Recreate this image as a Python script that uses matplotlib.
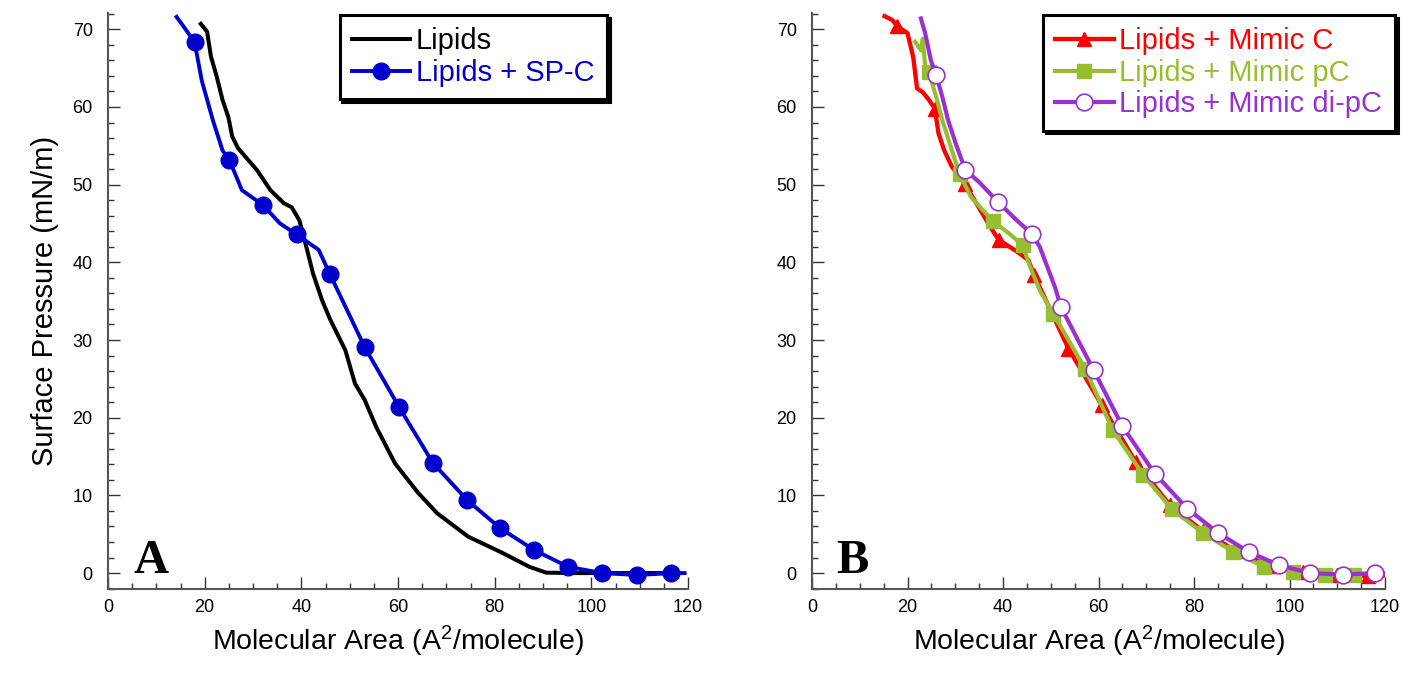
import numpy as np
import matplotlib
matplotlib.use("Agg")
import matplotlib.pyplot as plt
from matplotlib.ticker import MultipleLocator

plt.rcParams['font.family'] = ['Liberation Sans', 'DejaVu Sans']
plt.rcParams['mathtext.default'] = 'regular'

# panel A
lip_x = np.array([19.2, 20.5, 21.3, 22.5, 23.7, 24.9, 25.7, 26.9, 30.8, 33.6, 36.4, 38.0, 39.6,
                  41.2, 42.4, 44.3, 46.0, 49.1, 51.1, 53.1, 55.5, 59.4, 64.2, 68.1, 74.5, 81.6,
                  87.2, 90.7, 97.5, 105.0, 112.0, 118.0])
lip_y = np.array([70.7, 69.7, 66.5, 63.9, 60.9, 58.7, 56.2, 54.7, 51.9, 49.3, 47.6, 47.1, 45.4,
                  41.6, 38.6, 35.1, 32.6, 28.7, 24.4, 22.3, 18.8, 14.1, 10.3, 7.7, 4.7, 2.6,
                  0.8, 0.05, 0.0, 0.0, 0.0, 0.0])

spc_x = np.array([14.2, 17.9, 19.4, 21.7, 23.7, 25.1, 27.7, 32.0, 35.6, 39.0, 43.6, 45.9, 53.1,
                  60.2, 67.2, 74.3, 81.2, 88.2, 95.2, 102.3, 109.5, 116.5, 119.3])
spc_y = np.array([71.6, 68.4, 63.4, 58.3, 54.4, 53.2, 49.3, 47.4, 45.0, 43.6, 41.6, 38.5, 29.1,
                  21.4, 14.2, 9.4, 5.75, 2.96, 0.8, 0.0, -0.25, 0.0, 0.0])
spc_mk = [1, 5, 7, 9, 11, 12, 13, 14, 15, 16, 17, 18, 19, 20, 21]

# panel B
mc_x = np.array([15.2, 16.8, 17.9, 20.0, 21.2, 22.0, 23.2, 24.5, 25.7, 26.5, 27.7, 29.3, 32.0,
                 34.9, 37.3, 39.1, 42.9, 45.3, 46.5, 53.7, 60.7, 67.8, 75.0, 81.9, 88.9, 95.9,
                 102.9, 109.9, 116.5, 120.0])
mc_y = np.array([71.7, 71.2, 70.4, 69.5, 66.4, 62.4, 61.9, 60.9, 59.8, 56.6, 54.4, 52.3, 50.1,
                 47.1, 44.6, 42.9, 41.4, 40.3, 38.4, 28.9, 21.6, 14.3, 8.7, 5.4, 2.8, 0.9,
                 0.1, -0.2, -0.4, -0.3])
mc_mk = [2, 8, 12, 15, 18, 19, 20, 21, 22, 23, 24, 25, 26, 27, 28]

pc_x = np.array([21.6, 22.8, 23.2, 23.7, 24.5, 26.0, 27.3, 29.3, 30.9, 33.3, 37.9, 41.3, 44.1,
                 45.7, 47.7, 50.5, 57.2, 63.0, 69.4, 75.4, 81.8, 88.2, 94.7, 100.7, 107.5, 113.5])
pc_y = np.array([68.4, 67.3, 68.8, 65.2, 64.5, 61.3, 58.3, 54.4, 51.4, 48.4, 45.3, 43.7, 42.2,
                 39.4, 36.4, 33.4, 26.3, 18.4, 12.6, 8.2, 5.2, 2.75, 0.8, 0.2, -0.2, -0.2])
pc_mk = [4, 8, 10, 12, 15, 16, 17, 18, 19, 20, 21, 22, 23, 24, 25]

dpc_x = np.array([22.8, 23.7, 24.9, 26.0, 27.3, 28.5, 30.1, 32.1, 34.9, 38.9, 42.9, 46.0, 47.7,
                  49.3, 50.9, 52.1, 55.7, 59.0, 65.0, 71.8, 78.6, 85.0, 91.5, 97.9, 104.3,
                  111.1, 117.9, 120.0])
dpc_y = np.array([71.4, 69.5, 66.0, 64.1, 61.3, 58.3, 55.3, 51.9, 50.4, 47.8, 45.4, 43.7, 42.0,
                  39.4, 36.8, 34.3, 30.0, 26.1, 18.9, 12.8, 8.3, 5.2, 2.7, 1.0, 0.0,
                  -0.2, 0.0, 0.0])
dpc_mk = [3, 7, 9, 11, 15, 17, 18, 19, 20, 21, 22, 23, 24, 25, 26]

fig = plt.figure(figsize=(14.1, 6.74), dpi=100)
W, H = 1410, 674
ax1 = fig.add_axes([108 / W, 1 - 589 / H, 580 / W, 576 / H])
ax2 = fig.add_axes([812 / W, 1 - 589 / H, 573 / W, 576 / H])


def style(ax):
    ax.set_xlim(0, 120)
    ax.set_ylim(-2.05, 72.1)
    for s in ['top', 'right']:
        ax.spines[s].set_visible(False)
    for s in ['left', 'bottom']:
        ax.spines[s].set_color('#555555')
        ax.spines[s].set_linewidth(1.5)
    ax.xaxis.set_major_locator(MultipleLocator(20))
    ax.xaxis.set_minor_locator(MultipleLocator(5))
    ax.yaxis.set_major_locator(MultipleLocator(10))
    ax.yaxis.set_minor_locator(MultipleLocator(2))
    ax.tick_params(which='both', direction='in', color='#333333', width=1)
    ax.tick_params(which='major', length=8.5)
    ax.tick_params(which='minor', length=4.3)
    ax.tick_params(axis='x', labelsize=13, pad=7)
    ax.tick_params(axis='y', labelsize=13, pad=11)
    ax.set_xlabel('Molecular Area (A$^2$/molecule)', fontsize=20.5, labelpad=6)


def series(ax, x, y, mk, color, lw, marker, ms, mfc, mec, mew):
    ln, = ax.plot(x, y, color=color, lw=lw)
    pts, = ax.plot(x[mk], y[mk], ls='none', marker=marker, ms=ms, mfc=mfc, mec=mec, mew=mew)
    return (ln, pts)


style(ax1)
style(ax2)
ax1.set_ylabel('Surface Pressure (mN/m)', fontsize=21, labelpad=10)

h_lip, = ax1.plot(lip_x, lip_y, color='black', lw=2.9)
h_spc = series(ax1, spc_x, spc_y, spc_mk, '#0000CC', 2.8, 'o', 12, '#0000CC', '#0000CC', 1)

h_mc = series(ax2, mc_x, mc_y, mc_mk, '#FF0000', 3.1, '^', 10, '#FF0000', '#FF0000', 1)
h_pc = series(ax2, pc_x, pc_y, pc_mk, '#97BE30', 3.0, 's', 10, '#97BE30', '#97BE30', 1)
h_dpc = series(ax2, dpc_x, dpc_y, dpc_mk, '#9B30D0', 3.0, 'o', 12, 'white', '#9B30D0', 1.2)


def legend(ax, handles, labels, colors, x):
    leg = ax.legend(handles, labels, loc='upper right', bbox_to_anchor=(x, 0.9965),
                    borderaxespad=0, fontsize=21, handlelength=2.0, handletextpad=0.2,
                    labelspacing=0.12, borderpad=0.42, fancybox=False,
                    shadow={'color': 'black', 'alpha': 1}, framealpha=1)
    fr = leg.get_frame()
    fr.set_edgecolor('black')
    fr.set_linewidth(2.2)
    for t, c in zip(leg.get_texts(), colors):
        t.set_color(c)


legend(ax1, [h_lip, h_spc], ['Lipids', 'Lipids + SP-C'], ['black', '#0000CC'], 0.860)
legend(ax2, [h_mc, h_pc, h_dpc],
       ['Lipids + Mimic C', 'Lipids + Mimic pC', 'Lipids + Mimic di-pC'],
       ['#FF0000', '#97BE30', '#9B30D0'], 1.017)

ax1.text(5.2, 0, 'A', fontsize=35, fontweight='bold', family='Liberation Serif', va='baseline')
ax2.text(5.0, 0, 'B', fontsize=35, fontweight='bold', family='Liberation Serif', va='baseline')

fig.savefig('out.png', dpi=100)
